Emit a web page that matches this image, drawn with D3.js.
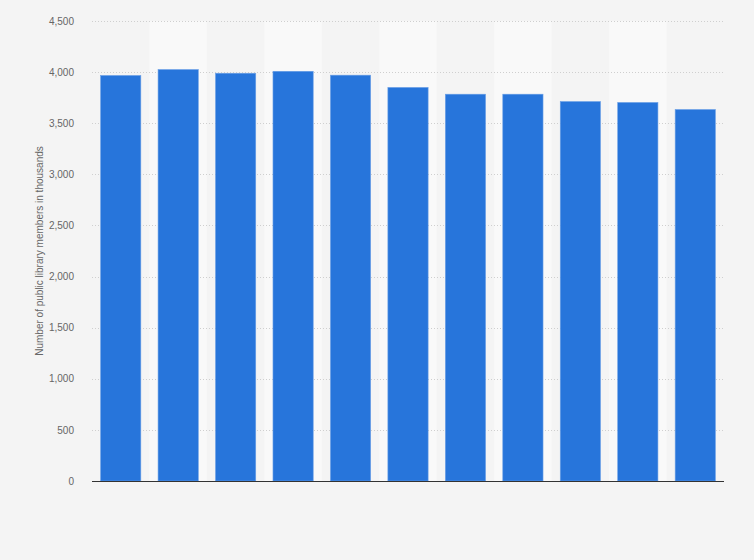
<!doctype html>
<meta charset="utf-8">
<title>Public library members</title>
<script src="https://cdn.jsdelivr.net/npm/d3@7"></script>
<style>
  body { margin: 0; background: #f4f4f4; }
  svg { display: block; font-family: "Liberation Sans", Arial, sans-serif; }
</style>
<body>
<div id="chart"></div>
<script>

var years = ['2009', '2010', '2011', '2012', '2013', '2014', '2015', '2016', '2017', '2018', '2019'];
var members = [3967, 4025, 3989, 4008, 3970, 3850, 3784, 3784, 3712, 3703, 3634];
var yTicks = [0, 500, 1000, 1500, 2000, 2500, 3000, 3500, 4000, 4500];

var width = 754
  , height = 560
  , margin = { top: 21, right: 30, bottom: 79, left: 92 };

var svg = d3.select('#chart').append('svg')
  .attr('width', width)
  .attr('height', height);

svg.append('rect')
  .attr('width', width).attr('height', height)
  .attr('fill', '#f4f4f4');

var x = d3.scaleBand()
  .domain(years)
  .range([margin.left, width - margin.right])
  .paddingInner(0.3)
  .paddingOuter(0.15);

var y = d3.scaleLinear()
  .domain([0, 4500])
  .range([height - margin.bottom, margin.top]);

// alternating column stripes
svg.append('g').selectAll('rect.stripe')
  .data(years.filter(function(d, i) { return i % 2 === 1; }))
  .enter().append('rect')
  .attr('class', 'stripe')
  .attr('x', function(d) { return x(d) + x.bandwidth() / 2 - x.step() / 2; })
  .attr('y', y(4500))
  .attr('width', x.step())
  .attr('height', y(0) - y(4500))
  .attr('fill', '#f9f9f9');

// grid
svg.append('g').selectAll('line.grid')
  .data(yTicks.filter(function(d) { return d > 0; }))
  .enter().append('line')
  .attr('x1', margin.left)
  .attr('x2', width - margin.right)
  .attr('y1', function(d) { return Math.round(y(d)) + 0.5; })
  .attr('y2', function(d) { return Math.round(y(d)) + 0.5; })
  .style('stroke', '#cfcfcf')
  .style('stroke-width', 1)
  .style('stroke-dasharray', '1,2');

// y axis
var yAxis = svg.append('g')
  .attr('transform', 'translate(' + (margin.left - 15) + ',0)')
  .call(d3.axisLeft(y).tickValues(yTicks).tickSize(0).tickFormat(d3.format(',')));
yAxis.select('.domain').remove();
yAxis.selectAll('text')
  .style('font-size', '10px')
  .style('fill', '#666');

svg.append('text')
  .attr('transform', 'translate(43,' + ((y(0) + y(4500)) / 2) + ') rotate(-90)')
  .attr('text-anchor', 'middle')
  .style('font-size', '10px')
  .style('fill', '#666')
  .text('Number of public library members in thousands');

// bars
svg.append('g').selectAll('rect.bar')
  .data(members)
  .enter().append('rect')
  .attr('class', 'bar')
  .attr('x', function(d, i) { return x(years[i]); })
  .attr('y', function(d) { return y(d); })
  .attr('width', x.bandwidth())
  .attr('height', function(d) { return y(0) - y(d); })
  .style('fill', '#2775db')
  .style('stroke', '#6a9fe6')
  .style('stroke-width', 0.6);

// baseline
svg.append('line')
  .attr('x1', margin.left)
  .attr('x2', width - margin.right)
  .attr('y1', y(0) + 0.5)
  .attr('y2', y(0) + 0.5)
  .style('stroke', '#333')
  .style('stroke-width', 1);

</script>
</body>
